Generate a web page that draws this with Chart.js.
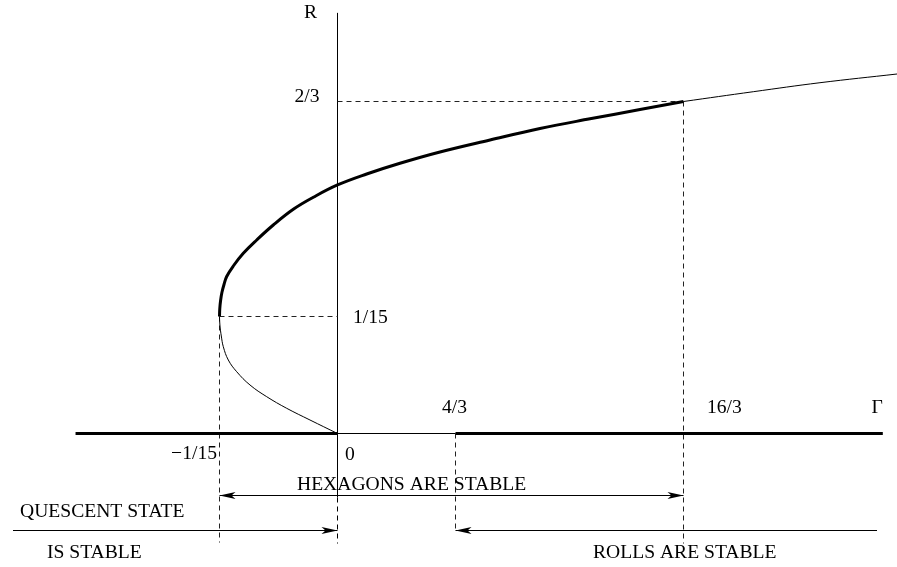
<!DOCTYPE html>
<html>
<head>
<meta charset="utf-8">
<title>Hexagons, rolls and the quiescent state</title>
<script src="https://cdn.jsdelivr.net/npm/chart.js"></script>
<style>
  html, body { margin: 0; padding: 0; background: #fff; }
  canvas { display: block; }
</style>
</head>
<body>
<canvas id="chart" width="897" height="567"></canvas>
<script>
// ---- data -------------------------------------------------------------
// Tick values and their labels on the Γ (horizontal) and R (vertical) axes
const GAMMA_TICKS = [-1 / 15, 0, 4 / 3, 16 / 3];
const GAMMA_TICK_LABELS = ['\u22121/15', '0', '4/3', '16/3'];
const R_TICKS = [0, 1 / 15, 2 / 3];
const R_TICK_LABELS = ['0', '1/15', '2/3'];

// Hexagon branch, stable part (thick): from the fold at (−1/15, 1/15) up to Γ = 16/3
const HEX_STABLE_GAMMA = [-1 / 15, -0.06650, -0.06605, -0.06531, -0.06412, -0.06260, -0.05887,
  -0.05322, -0.04565, -0.03627, -0.02497, -0.01367, 0, 0.3299, 0.7062, 1.1582, 1.9386,
  2.8158, 3.6930, 4.5702, 16 / 3];
const HEX_STABLE_R = [1 / 15, 0.0890, 0.1113, 0.1336, 0.1560, 0.1783, 0.2076,
  0.2430, 0.2802, 0.3220, 0.3658, 0.3993, 0.4337, 0.4643, 0.4942, 0.5257, 0.5592,
  0.5913, 0.6184, 0.6441, 2 / 3];

// Hexagon branch beyond Γ = 16/3 (unstable, thin)
const HEX_UPPER_GAMMA = [16 / 3, 6.558, 7.728, 9.079];
const HEX_UPPER_R = [2 / 3, 0.6940, 0.7191, 0.7434];

// Lower hexagon branch from the fold back to the origin (unstable, thin)
const HEX_LOWER_GAMMA = [-1 / 15, -0.06655, -0.06627, -0.06565, -0.06452, -0.06169, -0.05695,
  -0.04944, -0.04000, -0.02870, -0.01554, 0];
const HEX_LOWER_R = [1 / 15, 0.06353, 0.06011, 0.05556, 0.04946, 0.04188, 0.03521,
  0.02764, 0.02097, 0.01436, 0.00769, 0];

// R = 0 line: stable quiescent state (Γ < 0), unstable (0 < Γ < 4/3), stable rolls (Γ > 4/3)
const QUIESCENT_STABLE_GAMMA = [-0.148, 0];
const ROLLS_UNSTABLE_GAMMA = [0, 4 / 3];
const ROLLS_STABLE_GAMMA = [4 / 3, 8.83];
const R_AXIS_TOP = 0.914;

// ---- axis layout ------------------------------------------------------
// The diagram is schematic: each axis is linear between its labelled values,
// with those values placed at fixed positions along the canvas.
const W = 897, H = 567;
const AXIS_BREAKS = {
  x: { values: GAMMA_TICKS, fractions: [219.5 / W, 337.5 / W, 455.5 / W, 683.5 / W] },
  y: { values: R_TICKS, fractions: [1 - 433.5 / H, 1 - 316.5 / H, 1 - 101.5 / H] }
};

function interp(xs, ys, v) {
  let i = 0;
  while (i < xs.length - 2 && v > xs[i + 1]) i++;
  const t = (v - xs[i]) / (xs[i + 1] - xs[i]);
  return ys[i] + t * (ys[i + 1] - ys[i]);
}

// A linear scale that is piecewise linear between its break values
class PiecewiseScale extends Chart.LinearScale {
  getPixelForValue(value) {
    const b = AXIS_BREAKS[this.id];
    return this.getPixelForDecimal(interp(b.values, b.fractions, value));
  }
  getValueForPixel(pixel) {
    const b = AXIS_BREAKS[this.id];
    return interp(b.fractions, b.values, this.getDecimalForPixel(pixel));
  }
}
PiecewiseScale.id = 'piecewise';
PiecewiseScale.defaults = Chart.LinearScale.defaults;
Chart.register(PiecewiseScale);

const pts = (gs, rs) => gs.map((g, i) => ({ x: g, y: rs[i] }));
const onAxis = gs => gs.map(g => ({ x: g, y: 0 }));

// ---- annotations: guides, arrows, labels ------------------------------
const FONT = '19.6px "Liberation Serif", "Times New Roman", serif';

function arrowHead(ctx, tipX, y, dir) {
  const L = 16, Wd = 3.5;
  ctx.beginPath();
  ctx.moveTo(tipX, y);
  ctx.lineTo(tipX - dir * L, y - Wd);
  ctx.lineTo(tipX - dir * (L - 4), y);
  ctx.lineTo(tipX - dir * L, y + Wd);
  ctx.closePath();
  ctx.fill();
}

function line(ctx, x1, y1, x2, y2, dashed) {
  ctx.save();
  ctx.setLineDash(dashed ? [5, 4] : []);
  ctx.beginPath();
  ctx.moveTo(x1, y1);
  ctx.lineTo(x2, y2);
  ctx.stroke();
  ctx.restore();
}

const diagramPlugin = {
  id: 'diagram',
  beforeDatasetsDraw(chart) {
    const ctx = chart.ctx;
    const xs = chart.scales.x, ys = chart.scales.y;
    const X = v => xs.getPixelForValue(v), Y = v => ys.getPixelForValue(v);
    const axisY = Y(0), axisX = X(0);
    ctx.save();
    ctx.strokeStyle = '#000';
    ctx.lineWidth = 1;
    // R axis, continued below the Γ axis as a dashed marker
    line(ctx, axisX, Y(R_AXIS_TOP), axisX, axisY + 64, false);
    line(ctx, axisX, axisY + 64, axisX, axisY + 110, true);
    // dashed guides
    ctx.strokeStyle = '#222';
    line(ctx, X(-1 / 15), Y(1 / 15), X(-1 / 15), axisY + 109, true);
    line(ctx, X(16 / 3), Y(2 / 3), X(16 / 3), axisY + 110, true);
    line(ctx, X(4 / 3), axisY, X(4 / 3), axisY + 99, true);
    line(ctx, X(-1 / 15), Y(1 / 15), X(0), Y(1 / 15), true);
    line(ctx, X(0), Y(2 / 3), X(16 / 3), Y(2 / 3), true);
    ctx.restore();
  },
  afterDatasetsDraw(chart) {
    const ctx = chart.ctx;
    const xs = chart.scales.x, ys = chart.scales.y;
    const X = v => xs.getPixelForValue(v), Y = v => ys.getPixelForValue(v);
    const axisY = Y(0), axisX = X(0);
    ctx.save();
    ctx.strokeStyle = '#000';
    ctx.fillStyle = '#000';
    ctx.lineWidth = 1;

    // stability ranges
    const hexY = axisY + 62, rowY = axisY + 97;
    line(ctx, X(-1 / 15), hexY, X(16 / 3), hexY, false);
    arrowHead(ctx, X(-1 / 15), hexY, -1);
    arrowHead(ctx, X(16 / 3), hexY, 1);
    line(ctx, 13, rowY, axisX, rowY, false);
    arrowHead(ctx, axisX, rowY, 1);
    line(ctx, X(4 / 3), rowY, 877, rowY, false);
    arrowHead(ctx, X(4 / 3), rowY, -1);

    // labels
    ctx.font = FONT;
    ctx.textBaseline = 'alphabetic';
    const text = (s, x, y, align) => { ctx.textAlign = align || 'left'; ctx.fillText(s, x, y); };
    text('R', axisX - 20.5, Y(R_AXIS_TOP) + 5, 'right');
    text('\u0393', X(ROLLS_STABLE_GAMMA[1]), axisY - 20.5, 'right');
    text(R_TICK_LABELS[2], axisX - 18, Y(R_TICKS[2]) + 0.5, 'right');
    text(R_TICK_LABELS[1], axisX + 15.5, Y(R_TICKS[1]) + 6.5, 'left');
    text(GAMMA_TICK_LABELS[0], X(GAMMA_TICKS[0]) - 2.5, axisY + 25.5, 'right');
    text(GAMMA_TICK_LABELS[1], X(GAMMA_TICKS[1]) + 7.5, axisY + 26.5, 'left');
    text(GAMMA_TICK_LABELS[2], X(GAMMA_TICKS[2]) - 13.5, axisY - 20.5, 'left');
    text(GAMMA_TICK_LABELS[3], X(GAMMA_TICKS[3]) + 23.5, axisY - 20.5, 'left');

    text('HEXAGONS ARE STABLE', 297, axisY + 56.5);
    text('QUESCENT STATE', 20, axisY + 83.5);
    text('IS STABLE', 47, axisY + 124.5);
    text('ROLLS ARE STABLE', 593, axisY + 124.5);
    ctx.restore();
  }
};

// ---- chart ------------------------------------------------------------
const thick = { borderWidth: 3, borderColor: '#000' };
const thin = { borderWidth: 1, borderColor: '#000' };
const smooth = { tension: 0.4 };

new Chart(document.getElementById('chart'), {
  type: 'line',
  data: {
    datasets: [
      { label: 'quiescent state, stable', data: onAxis(QUIESCENT_STABLE_GAMMA), ...thick, tension: 0 },
      { label: 'quiescent state, unstable', data: onAxis(ROLLS_UNSTABLE_GAMMA), ...thin, tension: 0 },
      { label: 'rolls, stable', data: onAxis(ROLLS_STABLE_GAMMA), ...thick, tension: 0 },
      { label: 'hexagons, lower branch', data: pts(HEX_LOWER_GAMMA, HEX_LOWER_R), ...thin, ...smooth },
      { label: 'hexagons, beyond 16/3', data: pts(HEX_UPPER_GAMMA, HEX_UPPER_R), ...thin, ...smooth },
      { label: 'hexagons, stable', data: pts(HEX_STABLE_GAMMA, HEX_STABLE_R), ...thick, ...smooth }
    ]
  },
  options: {
    responsive: false,
    devicePixelRatio: 1,
    animation: false,
    events: [],
    layout: { padding: 0 },
    elements: { point: { radius: 0, hoverRadius: 0 }, line: { fill: false, borderCapStyle: 'butt' } },
    plugins: { legend: { display: false }, tooltip: { enabled: false } },
    scales: {
      x: { type: 'piecewise', display: false, min: -0.25, max: 9.2 },
      y: { type: 'piecewise', display: false, min: -0.08, max: 1 }
    }
  },
  plugins: [diagramPlugin]
});
</script>
</body>
</html>
